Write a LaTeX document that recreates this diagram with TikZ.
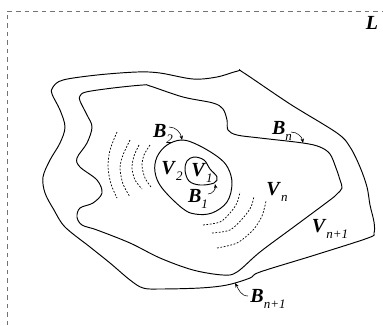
\documentclass[tikz,border=0pt]{standalone}
\usepackage{fontspec}
\setmainfont{Liberation Serif}
\usetikzlibrary{arrows.meta}
\newcommand{\mylab}[2]{\textbf{\textit{#1}}\raisebox{-0.33em}{\fontsize{13}{13}\selectfont\itshape #2}}
\begin{document}
\begin{tikzpicture}[x=1pt,y=-1pt,
  frame/.style={draw=black!55, dash pattern=on 4.5pt off 4pt, line width=0.7pt},
  contour/.style={draw=black, line width=0.95pt},
  field/.style={draw=black, dash pattern=on 1.8pt off 1.6pt, line width=0.7pt},
  lbl/.style={font=\fontsize{20}{20}\selectfont, inner sep=0pt},
  pointer/.style={draw=black, line width=0.55pt, -{Stealth[length=4.5pt,width=3.5pt]}}]
\useasboundingbox (0,0) rectangle (383,325);
% frame
\draw[frame] (7,325) -- (7,11) -- (383,11);
% outer boundary B_{n+1}
\draw[contour] plot[smooth cycle, tension=0.55] coordinates {
 (53,87) (63,80) (97,75) (137,72) (160,73) (193,79) (217,77) (238,71) (244,73)
 (290,104) (337,133) (350,147) (360,167) (367,187) (370,205) (374,222) (374,233) (368,238)
 (315,255) (260,272) (250,278) (227,285) (200,288) (160,289) (143,288) (130,280)
 (110,263) (90,247) (65,227) (54,210) (45,193) (43,177) (50,160) (60,143) (65,127) (60,110)
 (52,94)};
% boundary B_n
\draw[contour] plot[smooth cycle, tension=0.55] coordinates {
 (80,96) (86,92) (113,88) (143,85) (150,86) (183,97) (213,103) (223,109) (227,120)
 (228,130) (237,135) (260,138) (303,143) (320,147) (330,154) (336,168) (340,180) (342,188)
 (337,194) (330,200) (295,226) (260,252) (237,272) (223,275) (193,270) (160,258) (130,243)
 (97,230) (82,225) (77,217) (80,208) (93,203) (102,193) (97,180) (80,167) (77,158)
 (87,143) (92,127) (87,115) (80,101)};
% boundary B_2
\draw[contour] plot[smooth cycle, tension=0.6] coordinates {
 (182,140) (198,145) (218,157) (228,168) (232,184) (227,202) (212,213) (195,214)
 (182,208) (162,188) (155,172) (157,157) (167,145)};
% boundary B_1
\draw[contour] plot[smooth cycle, tension=0.6] coordinates {
 (194,157) (204,160) (210,169) (217,177) (214,183) (200,185) (189,181) (185,170) (187,161)};
% field lines left
\draw[field] plot[smooth] coordinates {(117,132) (110,150) (108,167) (111,184) (117,198)};
\draw[field] plot[smooth] coordinates {(130,140) (123,155) (120,168) (123,184) (130,197)};
\draw[field] plot[smooth] coordinates {(139,145) (134,156) (132,168) (135,180) (142,189)};
\draw[field] plot[smooth] coordinates {(150,145) (144,155) (142,166) (145,178) (151,187)};
% field lines right
\draw[field] plot[smooth] coordinates {(203,225) (220,222) (230,213) (237,203) (240,192)};
\draw[field] plot[smooth] coordinates {(212,233) (230,230) (243,218) (251,207) (254,196)};
\draw[field] plot[smooth] coordinates {(217,248) (237,243) (253,230) (262,216) (266,201)};
% labels
\node[lbl] (L) at (372,23) {\textbf{\textit{L}}};
\node[lbl] (B2) at (163,134) {\mylab{B}{2}};
\node[lbl] (Bn) at (282,131) {\mylab{B}{n}};
\node[lbl] (V2) at (172,171) {\mylab{V}{2}};
\node[lbl] (V1) at (202,173) {\mylab{V}{1}};
\node[lbl] (B1) at (198,199) {\mylab{B}{1}};
\node[lbl] (Vn) at (277,192) {\mylab{V}{n}};
\node[lbl] (Vn1) at (330,229) {\mylab{V}{n+1}};
\node[lbl] (Bn1) at (268,299) {\mylab{B}{n+1}};
% pointer arrows
\coordinate (b2s) at (169,127);
\coordinate (b2t) at (182,140);
\coordinate (bns) at (291,132);
\coordinate (bnt) at (303,143);
\coordinate (b1s) at (208,194);
\coordinate (b1t) at (215,184);
\coordinate (bn1s) at (248,296);
\coordinate (bn1t) at (235,283);
\draw[pointer] (b2s) to[out=0,in=100] (b2t);
\draw[pointer] (bns) to[out=0,in=100] (bnt);
\draw[pointer] (b1s) to[out=0,in=-80] (b1t);
\draw[pointer] (bn1s) to[out=180,in=-60] (bn1t);
\end{tikzpicture}
\end{document}
